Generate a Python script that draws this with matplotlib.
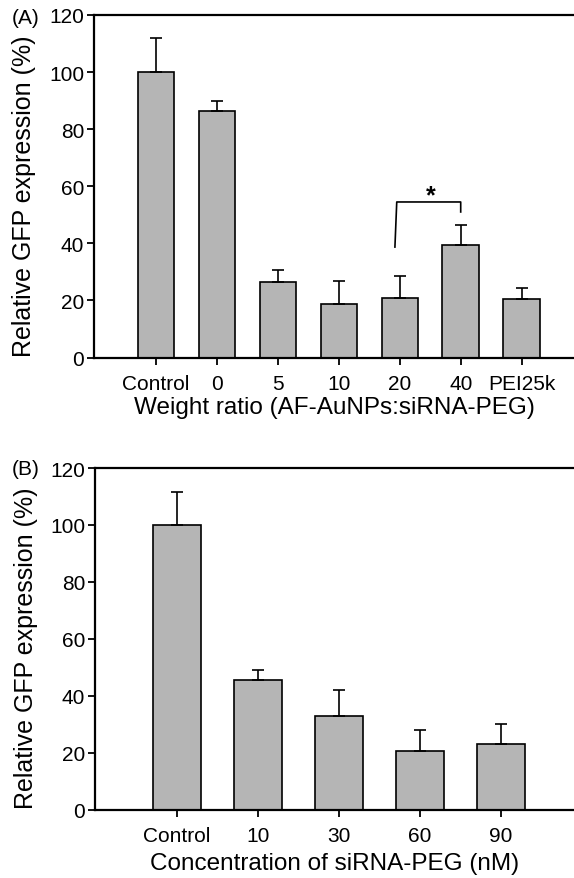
import matplotlib
matplotlib.use("Agg")
import matplotlib.pyplot as plt

plt.rcParams['font.family'] = ['Liberation Sans', 'DejaVu Sans']

# panel A
labels_a = ["Control", "0", "5", "10", "20", "40", "PEI25k"]
means_a = [100, 86.3, 26.4, 18.7, 20.9, 39.6, 20.5]
errs_a = [12.0, 3.5, 4.4, 8.2, 7.6, 6.8, 4.0]

# panel B
labels_b = ["Control", "10", "30", "60", "90"]
means_b = [100, 45.6, 32.9, 20.4, 22.9]
errs_b = [11.6, 3.5, 9.2, 7.5, 7.1]

bar_color = "#b5b5b5"


def draw_panel(ax, labels, means, errs, xlim, xlabel, labelpad):
    x = list(range(len(labels)))
    ax.bar(x, means, width=0.6, color=bar_color, edgecolor="black",
           linewidth=1.2, zorder=2)
    ax.errorbar(x, means, yerr=[[0] * len(errs), errs], fmt="none",
                ecolor="black", elinewidth=1.2, capsize=4.5, capthick=1.2,
                zorder=3)
    ax.set_xlim(*xlim)
    ax.set_ylim(0, 120)
    ax.set_yticks([0, 20, 40, 60, 80, 100, 120])
    ax.set_xticks(x)
    ax.set_xticklabels(labels)
    ax.spines['right'].set_visible(False)
    for s in ['left', 'bottom', 'top']:
        ax.spines[s].set_linewidth(1.6)
    ax.tick_params(axis='both', direction='out', length=5, width=1.3,
                   labelsize=15)
    ax.tick_params(axis='y', pad=2)
    ax.tick_params(axis='x', pad=7)
    ax.set_xlabel(xlabel, fontsize=17.5, labelpad=labelpad)
    ax.set_ylabel("Relative GFP expression (%)", fontsize=18)
    ax.yaxis.set_label_coords(-0.12, 0.475)


fig = plt.figure(figsize=(5.74, 8.79), dpi=100)
ax_a = fig.add_axes([0.1638, 0.5921, 0.8362, 0.3897])
ax_b = fig.add_axes([0.1655, 0.0779, 0.8345, 0.3885])

draw_panel(ax_a, labels_a, means_a, errs_a, (-1.02, 6.86),
           "Weight ratio (AF-AuNPs:siRNA-PEG)", 2)
draw_panel(ax_b, labels_b, means_b, errs_b, (-1.01, 4.9),
           "Concentration of siRNA-PEG (nM)", 5)

fig.text(12 / 574, 1 - 19 / 879, "(A)", fontsize=15, ha='left', va='center')
fig.text(12 / 574, 1 - 470 / 879, "(B)", fontsize=15, ha='left', va='center')

# significance bracket between 20 and 40
ax_a.plot([3.92, 3.95, 5.0, 5.0], [38.7, 54.5, 54.5, 51.0], color="black",
          linewidth=1.2, zorder=4)
ax_a.text(4.51, 57.0, "*", ha='center', va='center', fontsize=18,
          fontweight='bold')

fig.savefig("out.png", dpi=100)
